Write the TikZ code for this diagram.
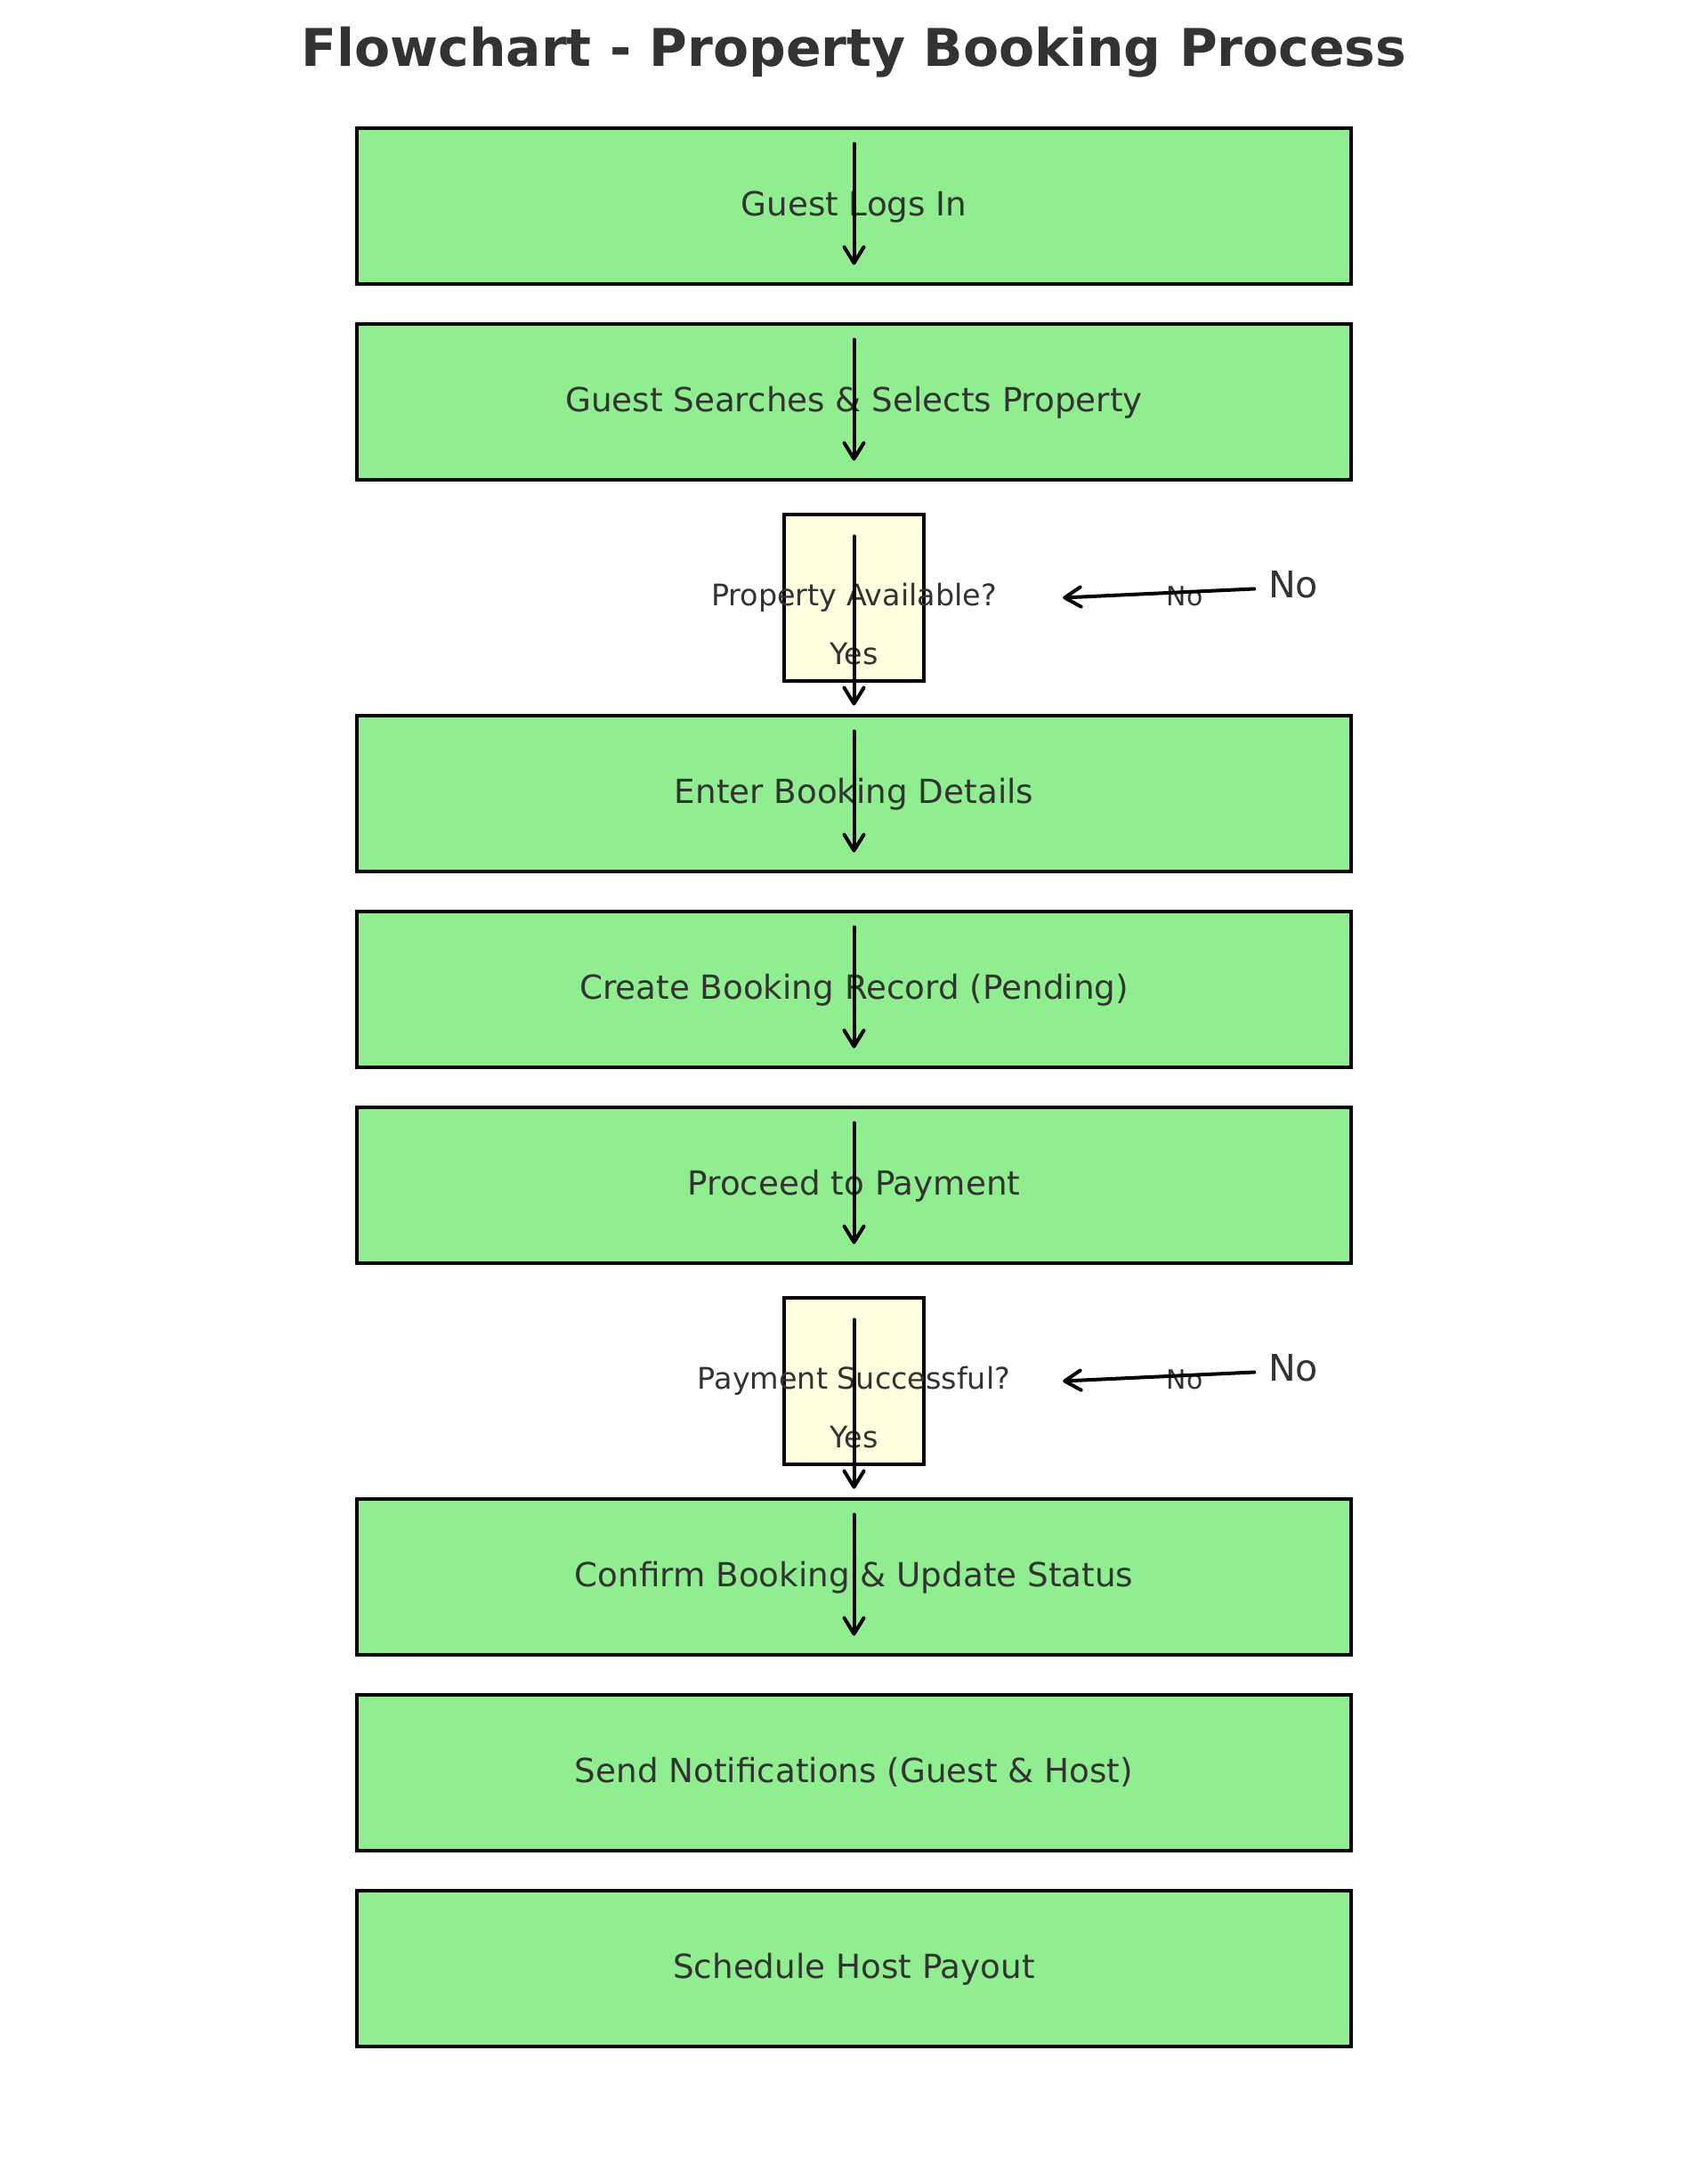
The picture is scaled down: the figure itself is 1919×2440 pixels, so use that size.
\documentclass[tikz,border=0pt]{standalone}
\usepackage{fontspec}
\setmainfont{DejaVu Sans}
\usetikzlibrary{arrows.meta}
\definecolor{stepgreen}{RGB}{144,238,144}
\definecolor{askyellow}{RGB}{255,255,224}
\definecolor{inkgray}{RGB}{51,51,51}

\begin{document}
\begin{tikzpicture}[
  x=0.01cm, y=-0.01cm,
  font=\fontsize{10.6}{12}\selectfont, text=inkgray,
  stepbox/.style={draw=black, line width=0.04cm, fill=stepgreen, minimum width=11.16cm,
                  minimum height=1.744cm, inner sep=0pt, text height=0.31cm, text depth=0.096cm},
  askbox/.style={draw=black, line width=0.04cm, fill=askyellow, minimum width=1.57cm,
                 minimum height=1.87cm, inner sep=0pt},
  asktxt/.style={inner sep=0pt, anchor=base, font=\fontsize{9.5}{11}\selectfont},
  notxt/.style={inner sep=0pt, anchor=base, font=\fontsize{8.5}{10}\selectfont},
  bignotxt/.style={inner sep=0pt, anchor=base, font=\fontsize{11.7}{13}\selectfont},
  flow/.style={-{Straight Barb[length=1.8mm, width=2.2mm, round]}, line width=0.04cm,
               line cap=round, draw=black},
]
\useasboundingbox (0,0) rectangle (1919,2440);

% ===================== title =====================
\node[anchor=base, inner sep=0pt, font=\fontsize{16.6}{20}\selectfont\bfseries] (title) at (959.5,75)
  {Flowchart - Property Booking Process};

% ===================== steps =====================
\node[stepbox] (login)   at (959.5,231.5)  {Guest Logs In};
\node[stepbox] (search)  at (959.5,451.5)  {Guest Searches \& Selects Property};

\node[askbox] (avail) at (959.5,671.5) {};
\node[asktxt] (availq)   at (959.5,680)  {Property Available?};
\node[asktxt] (availyes) at (959.5,746.5) {Yes};
\node[notxt]    (availno)  at (1331,680)  {No};
\node[bignotxt] (availbig) at (1453,671.5) {No};

\node[stepbox] (details) at (959.5,891.5)  {Enter Booking Details};
\node[stepbox] (record)  at (959.5,1111.5) {Create Booking Record (Pending)};
\node[stepbox] (payment) at (959.5,1331.5) {Proceed to Payment};

\node[askbox] (paid) at (959.5,1551.5) {};
\node[asktxt] (paidq)   at (959.5,1560)  {Payment Successful?};
\node[asktxt] (paidyes) at (959.5,1626.5) {Yes};
\node[notxt]    (paidno)  at (1331,1560)  {No};
\node[bignotxt] (paidbig) at (1453,1551.5) {No};

\node[stepbox] (confirm) at (959.5,1771.5) {Confirm Booking \& Update Status};
\node[stepbox] (notify)  at (959.5,1991.5) {Send Notifications (Guest \& Host)};
\node[stepbox] (payout)  at (959.5,2211.5) {Schedule Host Payout};

% ===================== arrows =====================
\draw[flow] ([yshift=7mm]login.center)   -- ([yshift=-6.6mm]login.center);
\draw[flow] ([yshift=7mm]search.center)  -- ([yshift=-6.6mm]search.center);
\draw[flow] ([yshift=6.9mm]avail.center) -- ([yshift=-12.1mm]avail.center);
\draw[flow] ([yshift=7mm]details.center) -- ([yshift=-6.6mm]details.center);
\draw[flow] ([yshift=7mm]record.center)  -- ([yshift=-6.6mm]record.center);
\draw[flow] ([yshift=7mm]payment.center) -- ([yshift=-6.6mm]payment.center);
\draw[flow] ([yshift=6.9mm]paid.center)  -- ([yshift=-12.1mm]paid.center);
\draw[flow] ([yshift=7mm]confirm.center) -- ([yshift=-6.6mm]confirm.center);

% no branches
\draw[flow] ([shift={(4.495cm,0.1cm)}]avail.center) -- ([xshift=2.345cm]avail.center);
\draw[flow] ([shift={(4.495cm,0.1cm)}]paid.center)  -- ([xshift=2.345cm]paid.center);

\end{tikzpicture}
\end{document}
